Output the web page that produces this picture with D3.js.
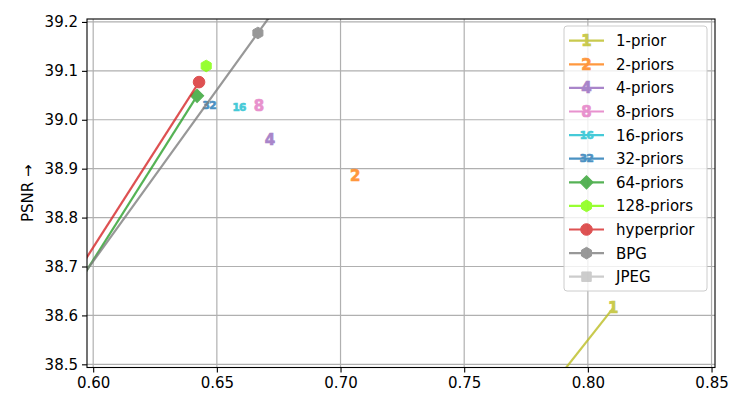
<!DOCTYPE html>
<html><head><meta charset="utf-8">
<script src="https://cdn.jsdelivr.net/npm/d3@7"></script>
<style>
body{margin:0;background:#fff;}
svg{display:block;font-family:"DejaVu Sans",sans-serif;}
</style></head>
<body><svg id="chart" width="747" height="413"></svg>
<script>
// ---- data (bpp, PSNR) ----
const seriesNames = ["1-prior","2-priors","4-priors","8-priors","16-priors","32-priors","64-priors","128-priors","hyperprior","BPG","JPEG"];
const bpp_1prior = [0.779, 0.8102];   const psnr_1prior = [38.415, 38.615];
const bpp_2priors = [0.7059];         const psnr_2priors = [38.885];
const bpp_4priors = [0.6715];         const psnr_4priors = [38.959];
const bpp_8priors = [0.6670];         const psnr_8priors = [39.028];
const bpp_16priors = [0.6590];        const psnr_16priors = [39.026];
const bpp_32priors = [0.6469];        const psnr_32priors = [39.030];
const bpp_64priors = [0.580, 0.6420]; const psnr_64priors = [38.553, 39.049];
const bpp_128priors = [0.6457];       const psnr_128priors = [39.110];
const bpp_hyper = [0.580, 0.6428];    const psnr_hyper = [38.581, 39.077];
const bpp_bpg = [0.550, 0.6666, 0.750]; const psnr_bpg = [38.360, 39.1775, 39.762];
const bpp_jpeg = [];                  const psnr_jpeg = [];
const xTicks = [0.60, 0.65, 0.70, 0.75, 0.80, 0.85];
const yTicks = [38.5, 38.6, 38.7, 38.8, 38.9, 39.0, 39.1, 39.2];
const yLabel = "PSNR \u2192";

// ---- styles ----
const styles = {
  "1-prior":   {color:"#bcbd22", marker:"text", label:"1"},
  "2-priors":  {color:"#ff7f0e", marker:"text", label:"2"},
  "4-priors":  {color:"#9467bd", marker:"text", label:"4"},
  "8-priors":  {color:"#e377c2", marker:"text", label:"8"},
  "16-priors": {color:"#17becf", marker:"text", label:"16"},
  "32-priors": {color:"#1f77b4", marker:"text", label:"32"},
  "64-priors": {color:"#2ca02c", marker:"diamond"},
  "128-priors":{color:"#7fff00", marker:"hexagon"},
  "hyperprior":{color:"#d62728", marker:"circle"},
  "BPG":       {color:"#7f7f7f", marker:"hexagon"},
  "JPEG":      {color:"#c0c0c0", marker:"square"}
};
const dataX = [bpp_1prior,bpp_2priors,bpp_4priors,bpp_8priors,bpp_16priors,bpp_32priors,bpp_64priors,bpp_128priors,bpp_hyper,bpp_bpg,bpp_jpeg];
const dataY = [psnr_1prior,psnr_2priors,psnr_4priors,psnr_8priors,psnr_16priors,psnr_32priors,psnr_64priors,psnr_128priors,psnr_hyper,psnr_bpg,psnr_jpeg];
const series = seriesNames.map((n,i)=>({name:n, pts:dataX[i].map((v,j)=>[v,dataY[i][j]]), ...styles[n]}));

const svg = d3.select("#chart");
const L=87, R=715, T=19, B=367.5;
const x = d3.scaleLinear().domain([0.5975, 0.8514]).range([L,R]);
const y = d3.scaleLinear().domain([38.4935, 39.206]).range([B,T]);

svg.append("defs").append("clipPath").attr("id","clip")
  .append("rect").attr("x",L).attr("y",T).attr("width",R-L).attr("height",B-T);

// grid
const grid = svg.append("g");
grid.selectAll(".gx").data(xTicks).join("line")
  .attr("x1",d=>x(d)).attr("x2",d=>x(d)).attr("y1",T).attr("y2",B)
  .attr("stroke","#b0b0b0").attr("stroke-width",1.2);
grid.selectAll(".gy").data(yTicks).join("line")
  .attr("y1",d=>y(d)).attr("y2",d=>y(d)).attr("x1",L).attr("x2",R)
  .attr("stroke","#b0b0b0").attr("stroke-width",1.2);

function hexPath(r){
  let p=[];
  for(let k=0;k<6;k++){const a=Math.PI/2+k*Math.PI/3; p.push([r*Math.cos(a), -r*Math.sin(a)]);}
  return "M"+p.map(q=>q.join(",")).join("L")+"Z";
}
function drawMarker(g, s, cx, cy){
  const c = s.color;
  if(s.marker==="text"){
    const two = s.label.length>1;
    g.append("text").attr("x",cx).attr("y",cy)
      .attr("text-anchor","middle").attr("dy","0.36em")
      .attr("font-size", two? 10.5:15).attr("font-weight","bold")
      .attr("letter-spacing", two? -0.6:0)
      .attr("fill",c).attr("stroke",c).attr("stroke-width",0.7)
      .text(s.label);
  } else if(s.marker==="diamond"){
    g.append("path").attr("transform",`translate(${cx},${cy}) rotate(45)`)
      .attr("d", d3.symbol(d3.symbolSquare, 88)()).attr("fill",c).attr("stroke",c).attr("stroke-width",1);
  } else if(s.marker==="hexagon"){
    g.append("path").attr("transform",`translate(${cx},${cy})`)
      .attr("d", hexPath(5.8)).attr("fill",c).attr("stroke",c).attr("stroke-width",1);
  } else if(s.marker==="circle"){
    g.append("circle").attr("cx",cx).attr("cy",cy).attr("r",5.8).attr("fill",c).attr("stroke",c).attr("stroke-width",1);
  } else if(s.marker==="square"){
    g.append("path").attr("transform",`translate(${cx},${cy})`)
      .attr("d", d3.symbol(d3.symbolSquare, 90)()).attr("fill",c).attr("stroke",c).attr("stroke-width",1);
  }
}

// series
const plot = svg.append("g").attr("clip-path","url(#clip)");
const line = d3.line().x(d=>x(d[0])).y(d=>y(d[1]));
series.forEach(s=>{
  const g = plot.append("g").attr("opacity",0.8);
  if(s.pts.length>1){
    g.append("path").attr("d",line(s.pts)).attr("fill","none")
      .attr("stroke",s.color).attr("stroke-width",2.2);
  }
  s.pts.forEach(p=>drawMarker(g, s, x(p[0]), y(p[1])));
});

// axes
const xAxis = svg.append("g").attr("transform",`translate(0,${B})`)
  .call(d3.axisBottom(x).tickValues(xTicks).tickFormat(d3.format(".2f")).tickSize(5).tickPadding(4.5));
const yAxis = svg.append("g").attr("transform",`translate(${L},0)`)
  .call(d3.axisLeft(y).tickValues(yTicks).tickFormat(d3.format(".1f")).tickSize(5).tickPadding(4));
[xAxis,yAxis].forEach(a=>{
  a.select(".domain").remove();
  a.selectAll("line").attr("stroke","#000").attr("stroke-width",1.1);
  a.selectAll("text").attr("font-size",15).attr("font-family","DejaVu Sans").attr("fill","#000");
});
svg.append("rect").attr("x",L).attr("y",T).attr("width",R-L).attr("height",B-T)
  .attr("fill","none").attr("stroke","#000").attr("stroke-width",1.1);

svg.append("text").attr("transform",`translate(33,${(T+B)/2}) rotate(-90)`)
  .attr("text-anchor","middle").attr("font-size",15).attr("fill","#000").text(yLabel);

// legend
const lg = svg.append("g");
lg.append("rect").attr("x",564).attr("y",26).attr("width",143).attr("height",265)
  .attr("rx",3).attr("fill","#fff").attr("fill-opacity",0.8).attr("stroke","#cccccc").attr("stroke-width",1);
series.forEach((s,i)=>{
  const cy = 40.7 + i*23.6;
  const g = lg.append("g").attr("opacity",0.8);
  g.append("line").attr("x1",569).attr("x2",604).attr("y1",cy).attr("y2",cy)
    .attr("stroke",s.color).attr("stroke-width",2.2);
  drawMarker(g, s, 586.5, cy);
  lg.append("text").attr("x",616).attr("y",cy).attr("dy","0.36em")
    .attr("font-size",15).attr("fill","#000").text(s.name);
});
</script></body></html>
